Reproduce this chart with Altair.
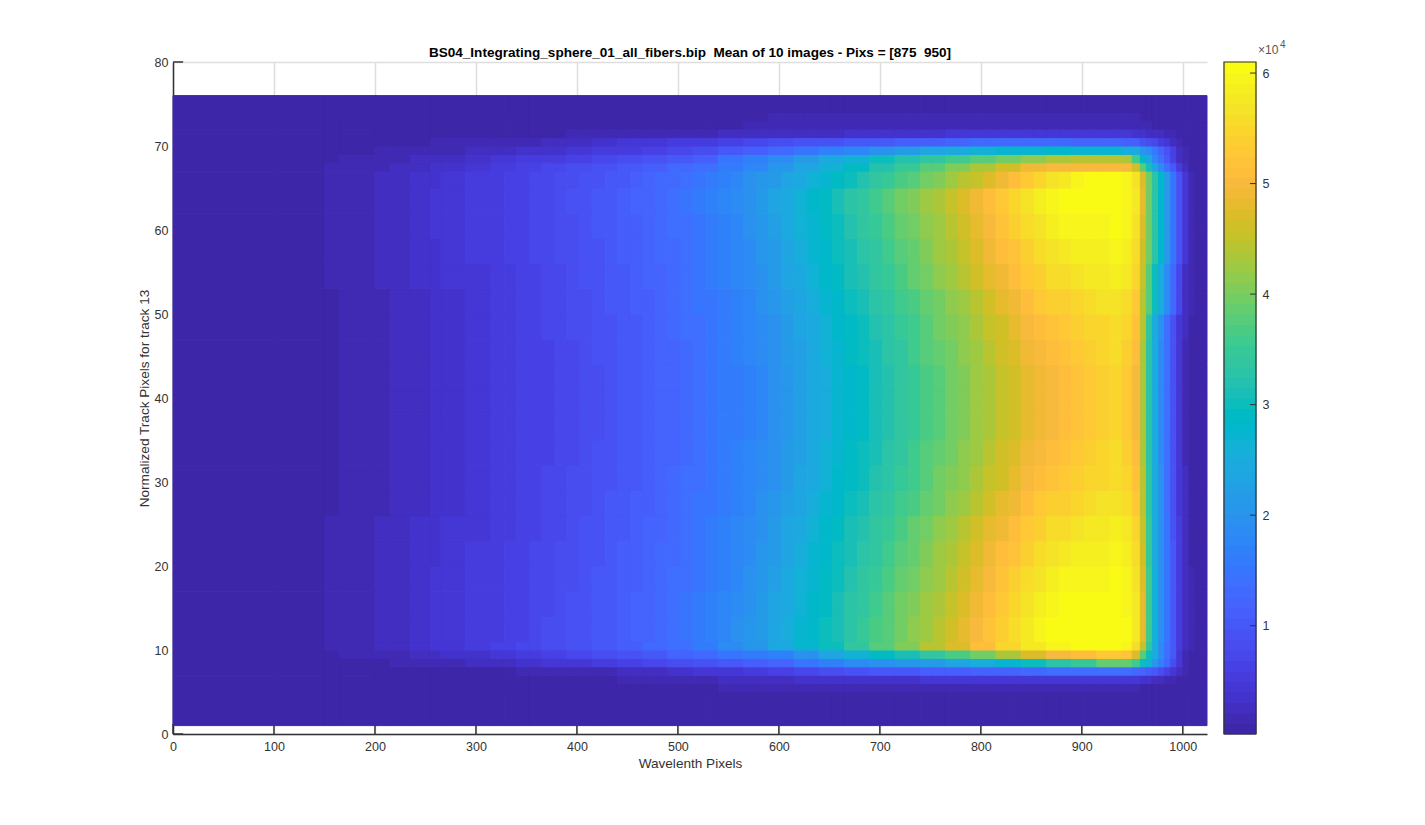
import altair as alt
import pandas as pd

TITLE = "BS04_Integrating_sphere_01_all_fibers.bip \u00a0Mean of 10 images - Pixs = [875 \u00a0950]"
X_LABEL = "Wavelenth Pixels"
Y_LABEL = "Normalized Track Pixels for track 13"

x_ticks = list(range(0, 1001, 100))
y_ticks = list(range(0, 81, 10))
cbar_ticks = [10000, 20000, 30000, 40000, 50000, 60000]
cmin, cmax = 200, 61000

x_edges = [0,150,165,200,215,235,255,265,290,315,328,340,353,365,378,390,403,415,428,440,453,465,478,490,503,515,528,540,553,565,578,590,603,615,628,640,653,665,678,690,703,715,728,740,753,765,778,790,803,815,828,840,853,865,878,890,903,915,928,940,950,958,964,970,976,982,988,994,1000,1006,1012,1024]


def widen(row):
    """Rows read at 25-pixel steps between x=315 and x=940: each reading fills two bins."""
    return row[:9] + [v for v in row[9:34] for _ in (0, 1)] + row[34:]


# right-hand roll-off as read in the upper part of the frame, x=964 to x=1024
top_edge = [40,33,28,22,15,9,4,1.7,.7]
upper_edge = [38,30,25,19,13,7,3,1.4,.7]

# intensity in thousands of counts, one value per wavelength bin
flat = [.6]*71
r05 = widen([.7]*18+[1.2,1.3,1.4,1.5,1.5,1.6,1.6,1.6,1.7,1.7,1.7,1.7,1.7,1.6,1.6,1.5,1.4,1.2,1,.8,.7,.7,.6,.6,.6,.6,.6,.6])
r06 = widen([.7]*13+[1,1.2,1.4,1.6,1.9,2.2,2.6,2.9,3.1,3.3,3.5,3.7,3.9,4,4.2,4.3,4.4,4.5,4.5,4.5,4.4,4.3,4,3.7,3.3,2.9,2.4,1.8,1.3,.9,.7,.6,.6])
r07 = widen([.7]*10+[1.2,1.3,1.6,2,2.4,2.9,3.5,4,4.8,5.5,6.5,7.5,8.5,9.3,10,10.5,11,11.5,12,12.5,13,13.5,14,14,14,13,12,11,10,8.5,6.5,4.5,2.5,1.3,.8,.6])
r08 = widen([.7,.7,.7,.7,1.2,1.3,1.6,1.9,2.4,2.9,3.5,4,4.7,5.4,6.2,7,8,9,10,11,12.5,15,17,19,20,21,22,23.5,25,27,30,33,35,39,39,36,30,26,21,17,13,8,4,1.8,.9,.6])
r09 = widen([.7,.7,1.2,1.5,1.8,2.3,2.8,3.3,3.9,4.6,5.3,6.2,7.2,8.2,9.3,10.5,11.8,13.2,14.5,15.5,17,20,23,26,29,31,33.5,36.5,39.5,43,47,50,51,52.5,52,47,38,30,25,19,14,10,4.5,2,1,.6])
r10 = widen([.7,1.6,1.6,2.6,2.6,3.5,4.4,4.4,5.3,6,6.9,7.9,9,10.2,11.4,12.8,14.4,16.3,18.3,21,24,27,30,34,38,41,44,47,51,55,58,60,61,61,60,56,45,34,25,19,14,10,5.5,2.5,1.2,.6])
r11 = [.7,1.6,1.6,2.6,2.6,3.5,4.4,4.4,5.3,
       5.8,6.3,6.8,7.3,7.8,8.3,8.9,9.4,10,10.6,
       11.2,11.8,12.5,13.3,14.1,15,16,17,18,19.2,
       20.5,22,23.5,25.3,27,28.5,30,31.5,33.2,34.8,
       36.4,38,39.7,41.3,42.8,44.3,46,47.8,49.8,52,
       54,56,58,59.3,60.3,60.9,61,61,61,61,
       61,58,48,36,26,20,15,10,5.5,2.5,1.2,.6]
edge_a = [.7,1.6,1.6,2.6,2.6,3.5,4.4,4.4,5.3,
          5.7,6.2,6.7,7.2,7.7,8.2,8.8,9.3,9.9,10.4,
          11,11.6,12.3,13,13.8,14.6,15.5,16.5,17.5,18.6,
          20,21.5,23,24.8,26.5,28,29.5,31,32.7,34.2,
          35.8,37.5,39.2,40.8,42.3,43.8,45.3,47,49,51,
          53,55,57,58.5,59.8,60.6,61,61,61,61,
          60,58,48,36,26,20,15,10,5.5,2.5,1.2,.6]
bow_b = [.7,1.6,1.6,2.6,2.6,3.5,4.4,4.4,5.2,
         5.6,6.1,6.6,7.1,7.6,8,8.6,9.1,9.7,10.2,
         10.8,11.4,12.1,12.8,13.6,14.4,15.3,16.2,17.2,18.2,
         19.5,21,22.4,24.2,25.9,27.4,28.9,30.4,32,33.5,
         35,36.7,38.4,39.9,41.5,42.9,44.4,46,48,49.9,
         51.8,53.7,55.6,57.1,58.3,59.1,59.6,59.8,59.9,60.1,
         59.8,56.8,47,35.6,25.9,19.9,14.9,9.9,5.3,2.4,1.2,.6]
bow_c = [.7,1.6,1.6,2.6,2.6,3.5,3.5,4.4,5,
         5.5,6,6.5,6.9,7.4,7.9,8.4,8.9,9.5,10.1,
         10.7,11.2,11.9,12.6,13.4,14.2,15.1,16,16.9,17.9,
         19.1,20.5,21.9,23.6,25.2,26.8,28.4,29.8,31.4,32.8,
         34.3,35.9,37.5,39.1,40.6,42.1,43.5,45.1,47,48.8,
         50.6,52.4,54.2,55.7,56.9,57.7,58.2,58.5,58.8,59.1,
         58.6,55.6,46,35,25.7,19.7,14.7,9.7,5.2,2.3,1.1,.6]
bow_d = [.7,1.6,1.6,2.6,2.6,3.5,3.5,4.4,4.9,
         5.4,5.8,6.3,6.8,7.2,7.7,8.3,8.8,9.4,9.9,
         10.5,11.1,11.7,12.4,13.2,14,14.8,15.7,16.6,17.5,
         18.7,19.9,21.3,23,24.6,26.2,27.8,29.2,30.7,32,
         33.6,35.2,36.7,38.2,39.8,41.2,42.6,44.1,45.9,47.7,
         49.4,51.1,52.9,54.3,55.4,56.2,56.9,57.3,57.8,58.2,
         57.4,54.4,45,34.7,25.6,19.6,14.6,9.6,5,2.3,1.1,.6]
bow_e = [.7,.7,1.6,1.6,2.6,2.6,3.5,3.5,4.7,
         5.2,5.7,6.2,6.6,7,7.5,8,8.5,9.1,9.7,
         10.3,10.8,11.5,12.2,12.9,13.7,14.5,15.3,16.1,17,
         18,19.2,20.6,22.2,23.8,25.4,27,28.4,29.8,31,
         32.6,34.1,35.6,37,38.7,40,41.3,42.8,44.6,46.3,
         47.8,49.3,51,52.5,53.5,54.3,55,55.6,56.3,57,
         55.7,52.8,44.8,34,25.4,19.4,14.4,9.4,4.9,2.2,1.1,.6]
bow_f = [.7,.7,1.6,1.6,2.6,2.6,3.5,3.5,4.6,
         5.1,5.6,6,6.5,6.9,7.3,7.8,8.3,8.9,9.5,
         10.1,10.6,11.3,12,12.7,13.5,14.3,15.1,15.8,16.7,
         17.6,18.7,20,21.6,23.1,24.8,26.5,27.8,29.2,30.4,
         31.8,33.3,34.7,36.2,37.8,39.2,40.4,41.9,43.6,45.2,
         46.6,48,49.6,51.1,52,52.8,53.6,54.4,55.2,56,
         54.6,51.6,44,33.6,25.2,19.2,14.2,9.2,4.7,2.1,1,.6]
bow_g = [.7,.7,1.6,1.6,2.6,2.6,3.5,3.5,4.5,
         5.1,5.5,6,6.4,6.8,7.2,7.7,8.2,8.8,9.4,
         10,10.5,11.1,11.8,12.5,13.3,14.1,14.9,15.6,16.4,
         17.3,18.4,19.7,21.2,22.7,24.4,26.1,27.4,28.7,29.9,
         31.3,32.8,34.2,35.6,37.3,38.6,39.8,41.2,42.9,44.4,
         45.8,47.2,48.7,50.1,51.1,51.9,52.7,53.5,54.5,55.4,
         53.8,50.8,43.5,33.3,25.1,19.1,14.1,9.1,4.6,2,1,.6]
mid = [.7,.7,1.6,1.6,2.6,2.6,3.5,3.5,4.4,
       5,5.4,5.9,6.3,6.7,7.1,7.6,8.1,8.7,9.3,
       9.9,10.4,11,11.7,12.4,13.2,14,14.7,15.4,16.2,
       17,18,19.3,20.8,22.3,24,25.7,27,28.3,29.4,
       30.8,32.3,33.6,35,36.7,38,39.2,40.6,42.2,43.7,
       45,46.3,47.8,49.2,50.1,50.9,51.8,52.7,53.8,54.8,
       53,50,43,33,25,19,14,9,4.5,2,1,.6]
r65 = [.7,1.6,1.6,2.6,2.6,3.5,3.5,4.4,5.1,
       5.5,6,6.5,7,7.4,7.9,8.5,9,9.5,10,
       10.6,11.2,11.9,12.6,13.3,14.1,15,16,17,18,
       19.2,20.5,21.8,23,24.5,26,27.5,29,30.5,32,
       33.5,35,36.5,38,39.5,41,42.5,44,45.5,47,
       49,51,53,55,56.7,58,59.5,61,61,61,
       60,57,47,35,26,20,15,10,5.3,2.4,1.2,.6]
r67 = widen([.7,1.2,1.5,2,2.2,2.8,3.3,3.7,4.5,5.2,6,7,8,9,10,11.2,12.6,14,15.8,18,20.5,23.5,26.5,29.5,32,34.5,37.5,40.5,43,46,49,50,50.5,50.5,50,46,38,31,24,19,14,10,5.5,2.4,1.1,.6])
r68 = widen([.7,.7,1.2,1.5,1.8,2.2,2.6,3,3.6,4.3,5,5.7,6.5,7.3,8.2,9.2,10.3,11.5,14.5,16.5,19,21.5,24,26.5,30,32,34,36,38,40,41.5,43,44,44,43,36,28,23,18,14,10,6,3,1.5,.9,.6])
r69 = widen([.7,.7,.7,1.2,1.3,1.5,1.7,1.9,2.3,2.8,3.3,3.8,4.4,5,5.7,6.5,7.4,8.5,9.7,11,13,14.8,16.5,18,20,21.5,23,24.5,26,27,27.5,28,27.5,27,25.5,24,21,19,16,12,9,6,3,1.5,.8,.6])
r70 = widen([.7,.7,.7,.7,.7,.7,1.2,1.2,1.5,1.7,2,2.3,3,3.5,4,4.5,5,5.7,6.3,7,8,9,9.6,10,10.6,11,11.5,12,12.6,13,13,13,12.5,12,11.5,11,9.5,8.5,7,5.5,4,2.8,1.8,1,.7,.6])
r71 = widen([.7]*12+[1.2,1.2,1.4,1.6,1.8,2,2.2,2.4,2.6,2.8,3,3.3,3.5,3.6,3.8,4,4.2,4.3,4.4,4.4,4.3,4.2,4,3.7,3.3,3,2.6,2.1,1.6,1.2,.9,.7,.6,.6])
r72 = widen([.7]*18+[1,1.2,1.3,1.4,1.5,1.6,1.7,1.8,1.9,2,2,2,2,2,2,1.9,1.8,1.7,1.5,1.3,1.1,.9,.7,.7,.6,.6,.6,.6])
r73 = widen([.7]*20+[1.2]*16+[.9,.8,.7,.7,.6,.6,.6,.6,.6,.6])


def upper(row):
    return row[:-9] + upper_edge


def top(row):
    return row[:-9] + top_edge


y_lo = [1,5,6,7,8,9,10,11,14,17,20,23,26,29,32,35,38,41,44,47,50,53,56,59,62,65,67,68,69,70,71,72,73,74]
y_hi = [5,6,7,8,9,10,11,14,17,20,23,26,29,32,35,38,41,44,47,50,53,56,59,62,65,67,68,69,70,71,72,73,74,76]
rows = [flat,r05,r06,r07,r08,r09,r10,r11,edge_a,bow_b,bow_c,bow_d,bow_e,bow_f,bow_g,mid,mid,mid,bow_g,bow_f,upper(bow_e),upper(bow_d),top(bow_c),top(bow_b),top(edge_a),top(r65),r67,r68,r69,r70,r71,r72,r73,flat]

parula = [
(.2422,.1504,.6603),(.2504,.1650,.7076),(.2578,.1818,.7511),(.2647,.1978,.7952),(.2706,.2147,.8364),(.2751,.2342,.8710),(.2783,.2559,.8991),(.2803,.2782,.9221),
(.2813,.3006,.9414),(.2810,.3228,.9579),(.2795,.3447,.9717),(.2760,.3667,.9829),(.2699,.3892,.9906),(.2602,.4123,.9952),(.2440,.4358,.9988),(.2206,.4603,.9973),
(.1963,.4847,.9892),(.1834,.5074,.9798),(.1786,.5289,.9682),(.1764,.5499,.9520),(.1687,.5703,.9359),(.1540,.5902,.9218),(.1460,.6091,.9079),(.1380,.6276,.8973),
(.1248,.6459,.8883),(.1113,.6635,.8763),(.0952,.6798,.8598),(.0689,.6948,.8394),(.0297,.7082,.8163),(.0036,.7203,.7917),(.0067,.7312,.7660),(.0433,.7411,.7394),
(.0964,.7500,.7120),(.1408,.7584,.6842),(.1717,.7670,.6554),(.1938,.7758,.6251),(.2161,.7843,.5923),(.2470,.7918,.5567),(.2906,.7973,.5188),(.3406,.8008,.4789),
(.3909,.8029,.4354),(.4456,.8024,.3909),(.5044,.7993,.3480),(.5616,.7942,.3045),(.6174,.7876,.2612),(.6720,.7793,.2227),(.7242,.7698,.1910),(.7738,.7598,.1646),
(.8203,.7498,.1535),(.8634,.7406,.1596),(.9035,.7330,.1774),(.9393,.7285,.2099),(.9728,.7298,.2394),(.9956,.7434,.2371),(.9970,.7659,.2199),(.9952,.7893,.2028),
(.9892,.8136,.1885),(.9786,.8386,.1766),(.9676,.8639,.1643),(.9610,.8890,.1537),(.9597,.9135,.1423),(.9628,.9373,.1265),(.9691,.9606,.1064),(.9769,.9839,.0805)]
colors = ["#%02x%02x%02x" % tuple(round(c * 255) for c in rgb) for rgb in parula]

FONT = "Liberation Sans"
INK = "#333333"
GRID = "#dedede"

cells = pd.DataFrame([
    {"x0": x_edges[i], "x1": x_edges[i + 1], "y0": lo, "y1": hi, "v": v * 1000}
    for lo, hi, row in zip(y_lo, y_hi, rows)
    for i, v in enumerate(row)
])

xs = alt.Scale(domain=[0, 1024], nice=False, zero=False)
ys = alt.Scale(domain=[0, 80], nice=False, zero=False)
cs = alt.Scale(type="quantize", domain=[cmin, cmax], range=colors)

x_axis = alt.Axis(values=x_ticks, title=X_LABEL, format="d", tickSize=0, labelPadding=6, titlePadding=4,
                  labelFlush=False, grid=True, gridColor=GRID, gridWidth=1.5, gridOpacity=1,
                  domainColor=INK, domainWidth=1.5, labelColor=INK, labelFontSize=12.5,
                  titleColor=INK, titleFontSize=13.6, titleFontWeight="normal", labelFont=FONT, titleFont=FONT)
y_axis = alt.Axis(values=y_ticks, title=Y_LABEL, format="d", tickSize=0, labelPadding=5, titlePadding=3,
                  labelFlush=False, grid=True, gridColor=GRID, gridWidth=1.5, gridOpacity=1,
                  domainColor=INK, domainWidth=1.5, labelColor=INK, labelFontSize=12.5,
                  titleColor=INK, titleFontSize=13.6, titleFontWeight="normal", labelFont=FONT, titleFont=FONT)

x_tick_layer = alt.Chart(pd.DataFrame({"t": x_ticks})).mark_rule(color=INK, strokeWidth=1.5).encode(
    x=alt.X("t:Q", scale=xs, axis=x_axis),
    y=alt.Y(datum=0, scale=ys, axis=y_axis),
    y2=alt.Y2(datum=1.2),
)
y_tick_layer = alt.Chart(pd.DataFrame({"t": y_ticks})).mark_rule(color=INK, strokeWidth=1.5).encode(
    y=alt.Y("t:Q", scale=ys, axis=y_axis),
    x=alt.X(datum=0, scale=xs, axis=x_axis),
    x2=alt.X2(datum=10),
)
image = alt.Chart(cells).mark_rect(strokeWidth=1).encode(
    x=alt.X("x0:Q", scale=xs, axis=x_axis),
    x2="x1:Q",
    y=alt.Y("y0:Q", scale=ys, axis=y_axis),
    y2="y1:Q",
    color=alt.Color("v:Q", scale=cs, legend=None),
    stroke=alt.Stroke("v:Q", scale=cs, legend=None),
)
main = alt.layer(x_tick_layer, y_tick_layer, image).properties(
    width=1034, height=672,
    title=alt.Title(TITLE, font=FONT, fontSize=13.55, fontWeight="bold", color="#000000", offset=-4),
)

step = (cmax - cmin) / 64
bands = pd.DataFrame({"lo": [cmin + i * step for i in range(64)],
                      "hi": [cmin + (i + 1) * step for i in range(64)]})
bands["v"] = (bands.lo + bands.hi) / 2
cy = alt.Scale(domain=[cmin, cmax], nice=False, zero=False)
c_axis = alt.Axis(orient="right", values=cbar_ticks, labelExpr="datum.value / 10000", title=None,
                  labelFlush=False, tickSize=0, domain=False, grid=False, labelPadding=6, labelColor=INK, labelFontSize=12.5, labelFont=FONT)
bar = alt.Chart(bands).mark_rect(strokeWidth=1).encode(
    x=alt.value(0), x2=alt.value(32),
    y=alt.Y("lo:Q", scale=cy, axis=c_axis),
    y2="hi:Q",
    color=alt.Color("v:Q", scale=cs, legend=None),
    stroke=alt.Stroke("v:Q", scale=cs, legend=None),
)
bar_ticks = alt.Chart(pd.DataFrame({"t": cbar_ticks})).mark_rule(color=INK, strokeWidth=1).encode(
    y=alt.Y("t:Q", scale=cy, axis=c_axis), x=alt.value(26), x2=alt.value(32))
bar_box = alt.Chart(pd.DataFrame({"a": [0]})).mark_rect(fill=None, stroke=INK, strokeWidth=1.2).encode(
    x=alt.value(0), x2=alt.value(32), y=alt.value(0), y2=alt.value(672))
exp_a = alt.Chart(pd.DataFrame({"s": ["\u00d710"]})).mark_text(
    align="left", baseline="alphabetic", font=FONT, fontSize=12, color="#555555").encode(
    x=alt.value(34), y=alt.value(-8), text="s:N")
exp_b = alt.Chart(pd.DataFrame({"s": ["4"]})).mark_text(
    align="left", baseline="alphabetic", font=FONT, fontSize=10, color="#555555").encode(
    x=alt.value(56), y=alt.value(-14), text="s:N")
colorbar = alt.layer(bar, bar_ticks, bar_box, exp_a, exp_b).properties(width=32, height=672)

chart = alt.hconcat(main, colorbar, spacing=15, padding={"left": 129, "top": 32, "right": 10, "bottom": 10}).configure_view(stroke=None)
chart.save("out.html", embed_options={"renderer": "svg", "actions": False})
